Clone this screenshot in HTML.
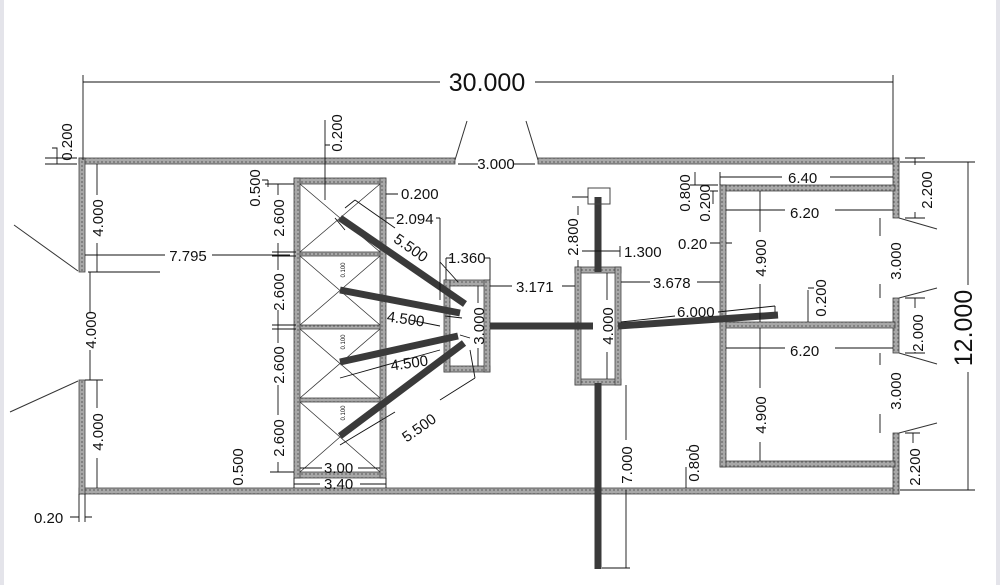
<!DOCTYPE html>
<html><head><meta charset="utf-8"><style>
html,body{margin:0;padding:0;background:#fff;}
svg{display:block}
text{font-family:"Liberation Sans",sans-serif;fill:#111;}
</style></head><body>
<svg width="1000" height="585" viewBox="0 0 1000 585" xmlns="http://www.w3.org/2000/svg">
<defs>
<pattern id="h" width="4" height="4" patternUnits="userSpaceOnUse">
<rect width="4" height="4" fill="#a8a8a8"/><circle cx="2" cy="2" r="0.9" fill="#666"/>
</pattern>
</defs>
<rect x="0" y="0" width="4" height="585" fill="#e4e4ea"/>
<rect x="996" y="0" width="4" height="585" fill="#e4e4ea"/>
<g fill="url(#h)" stroke="#444" stroke-width="0.8">
<rect x="79" y="158" width="376" height="6"/>
<rect x="538" y="158" width="361" height="6"/>
<rect x="79" y="488" width="820" height="6"/>
<rect x="79" y="158" width="6" height="114"/>
<rect x="79" y="380" width="6" height="114"/>
<rect x="893" y="158" width="6" height="60"/>
<rect x="893" y="298" width="6" height="55"/>
<rect x="893" y="433" width="6" height="61"/>
<rect x="294" y="178" width="92" height="6"/>
<rect x="294" y="472" width="92" height="6"/>
<rect x="294" y="178" width="6" height="300"/>
<rect x="380" y="178" width="6" height="300"/>
<rect x="300" y="252" width="80" height="4"/>
<rect x="300" y="325" width="80" height="4"/>
<rect x="300" y="398" width="80" height="4"/>
<rect x="444" y="280" width="46" height="6"/>
<rect x="444" y="366" width="46" height="6"/>
<rect x="444" y="280" width="6" height="92"/>
<rect x="484" y="280" width="6" height="92"/>
<rect x="575" y="267" width="46" height="6"/>
<rect x="575" y="379" width="46" height="6"/>
<rect x="575" y="267" width="6" height="118"/>
<rect x="615" y="267" width="6" height="118"/>
<rect x="720" y="185" width="175" height="6"/>
<rect x="720" y="322" width="175" height="6"/>
<rect x="720" y="461" width="175" height="6"/>
<rect x="720" y="185" width="6" height="282"/>
</g>
<g stroke="#333" stroke-width="0.8" fill="none">
<path d="M300 184 L380 252 M380 184 L300 252 M300 256 L380 325 M380 256 L300 325 M300 329 L380 398 M380 329 L300 398 M300 402 L380 472 M380 402 L300 472"/>
</g>
<g stroke="#3a3a3a" stroke-width="7" stroke-linecap="butt" fill="none">
<line x1="340" y1="218" x2="465" y2="304"/>
<line x1="340" y1="290" x2="460" y2="313"/>
<line x1="340" y1="362" x2="458" y2="336"/>
<line x1="340" y1="436" x2="464" y2="343"/>
<line x1="490" y1="326" x2="593" y2="326"/>
<line x1="598" y1="197" x2="598" y2="272"/>
<line x1="598" y1="383" x2="598" y2="569"/>
<line x1="618" y1="326" x2="778" y2="315"/>
</g>
<rect x="588" y="188" width="22" height="16" fill="none" stroke="#444"/>
<g stroke="#333" stroke-width="1" fill="none">
<path d="M455 160 L467 121 M538 160 L526 121 M78 271 L14 225 M78 381 L10 412 M899 218 L937 229 M899 298 L937 288 M899 353 L937 364 M899 433 L937 423"/>
</g>
<g stroke="#111" stroke-width="0.9" fill="none">
<path d="M83 82 L440 82 M535 82 L893 82 M83 75 L83 160 M893 75 L893 160"/>
<path d="M968 162 L968 285 M968 372 L968 490 M900 162 L975 162 M900 490 L975 490"/>
<path d="M458 164 L478 164 M514 164 L535 164"/>
<path d="M97 164 L97 195 M97 243 L97 272 M88 272 L100 272 M90 272 L160 272"/>
<path d="M85 255 L165 255 M212 255 L290 255"/>
<path d="M90 272 L90 312 M90 350 L90 380"/>
<path d="M97 380 L97 408 M97 458 L97 488 M85 380 L103 380"/>
<path d="M278 184 L278 195 M278 243 L278 270 M278 310 L278 343 M278 385 L278 415 M278 462 L278 472 M270 472 L294 472 M272 252 L296 252 M272 256 L296 256 M272 325 L296 325 M272 329 L296 329"/>
<path d="M325 164 L325 200 M325 120 L325 164 M330 145 L325 145"/>
<path d="M265 184 L294 184 M262 180 L268 180 M268 180 L268 187"/>
<path d="M52 148 L57 148 L57 164 M45 158 L77 158 M45 164 L77 164"/>
<path d="M386 194 L398 194 M386 218 L394 218 M440 218 L440 300 M436 218 L440 218"/>
<path d="M446 258 L446 280 M490 258 L490 280 M446 258 L452 258 M484 258 L490 258"/>
<path d="M490 286 L512 286 M562 286 L575 286"/>
<path d="M478 286 L478 303 M478 348 L478 366"/>
<path d="M300 468 L322 468 M358 468 L380 468 M294 484 L320 484 M360 484 L386 484 M294 478 L294 488 M386 478 L386 488"/>
<path d="M345 208 L355 200 M355 200 L395 228 M440 262 L458 282"/>
<path d="M578 206 L578 215 M578 260 L578 267 M572 197 L588 197"/>
<path d="M582 251 L620 251 M620 246 L620 257"/>
<path d="M621 282 L650 282 M697 282 L720 282"/>
<path d="M607 273 L607 300 M607 352 L607 379"/>
<path d="M626 385 L626 440 M626 490 L626 568 M602 568 L630 568"/>
<path d="M621 322 L675 316 M718 312 L775 306 M775 306 L775 312"/>
<path d="M726 210 L785 210 M835 210 L893 210 M726 348 L785 348 M835 348 L893 348"/>
<path d="M720 177 L782 177 M830 177 L893 177 M720 172 L720 185"/>
<path d="M710 243 L720 243 M726 243 L732 243"/>
<path d="M695 172 L695 185 M690 185 L718 185 M713 191 L713 204 M710 191 L718 191"/>
<path d="M760 191 L760 232 M760 284 L760 322 M760 328 L760 388 M760 442 L760 461"/>
<path d="M808 290 L808 322 M808 288 L814 288"/>
<path d="M880 218 L880 236 M880 284 L880 298 M880 353 L880 365 M880 414 L880 433"/>
<path d="M915 158 L915 165 M915 212 L915 218 M905 158 L925 158 M905 218 L925 218"/>
<path d="M915 298 L915 308 M915 352 L915 353 M905 298 L925 298 M905 353 L925 353"/>
<path d="M913 433 L913 443 M905 433 L920 433"/>
<path d="M686 467 L686 488 M686 450 L690 450"/>
<path d="M70 517 L79 517 M85 517 L92 517 M79 494 L79 522 M85 494 L85 522"/>
<path d="M335 218 L345 230 M410 320 L440 326 M445 316 L462 318"/>
<path d="M340 378 L440 350 M460 335 L470 338"/>
<path d="M340 445 L395 412 M440 400 L475 378 M470 350 L475 378"/>
</g>
<g font-size="15">
<text x="487" y="91" font-size="25" text-anchor="middle">30.000</text>
<text x="496" y="169" text-anchor="middle">3.000</text>
<text x="188" y="261" text-anchor="middle">7.795</text>
<text x="401" y="199">0.200</text>
<text x="396" y="224">2.094</text>
<text x="448" y="263">1.360</text>
<text x="516" y="292">3.171</text>
<text x="624" y="257">1.300</text>
<text x="653" y="288">3.678</text>
<text x="677" y="317">6.000</text>
<text x="788" y="183">6.40</text>
<text x="790" y="218">6.20</text>
<text x="790" y="356">6.20</text>
<text x="678" y="249">0.20</text>
<text x="324" y="473">3.00</text>
<text x="324" y="489">3.40</text>
<text x="34" y="523">0.20</text>
<text transform="translate(408,252) rotate(35)" text-anchor="middle">5.500</text>
<text transform="translate(405,324) rotate(8)" text-anchor="middle">4.500</text>
<text transform="translate(410,368) rotate(-8)" text-anchor="middle">4.500</text>
<text transform="translate(422,432) rotate(-35)" text-anchor="middle">5.500</text>
<g text-anchor="middle">
<text transform="translate(972,328) rotate(-90)" font-size="25">12.000</text>
<text transform="translate(72,142) rotate(-90)">0.200</text>
<text transform="translate(342,133) rotate(-90)">0.200</text>
<text transform="translate(260,188) rotate(-90)">0.500</text>
<text transform="translate(243,467) rotate(-90)">0.500</text>
<text transform="translate(284,218) rotate(-90)">2.600</text>
<text transform="translate(284,292) rotate(-90)">2.600</text>
<text transform="translate(284,365) rotate(-90)">2.600</text>
<text transform="translate(284,438) rotate(-90)">2.600</text>
<text transform="translate(103,218) rotate(-90)">4.000</text>
<text transform="translate(96,330) rotate(-90)">4.000</text>
<text transform="translate(103,432) rotate(-90)">4.000</text>
<text transform="translate(484,326) rotate(-90)">3.000</text>
<text transform="translate(578,237) rotate(-90)">2.800</text>
<text transform="translate(613,326) rotate(-90)">4.000</text>
<text transform="translate(632,465) rotate(-90)">7.000</text>
<text transform="translate(690,193) rotate(-90)">0.800</text>
<text transform="translate(710,203) rotate(-90)">0.200</text>
<text transform="translate(766,258) rotate(-90)">4.900</text>
<text transform="translate(766,415) rotate(-90)">4.900</text>
<text transform="translate(826,298) rotate(-90)">0.200</text>
<text transform="translate(699,463) rotate(-90)">0.800</text>
<text transform="translate(932,190) rotate(-90)">2.200</text>
<text transform="translate(901,261) rotate(-90)">3.000</text>
<text transform="translate(923,333) rotate(-90)">2.000</text>
<text transform="translate(901,391) rotate(-90)">3.000</text>
<text transform="translate(920,467) rotate(-90)">2.200</text>
<text transform="translate(345,270) rotate(-90)" font-size="6">0.100</text>
<text transform="translate(345,342) rotate(-90)" font-size="6">0.100</text>
<text transform="translate(345,413) rotate(-90)" font-size="6">0.100</text>
</g>
</g>
</svg>
</body></html>
